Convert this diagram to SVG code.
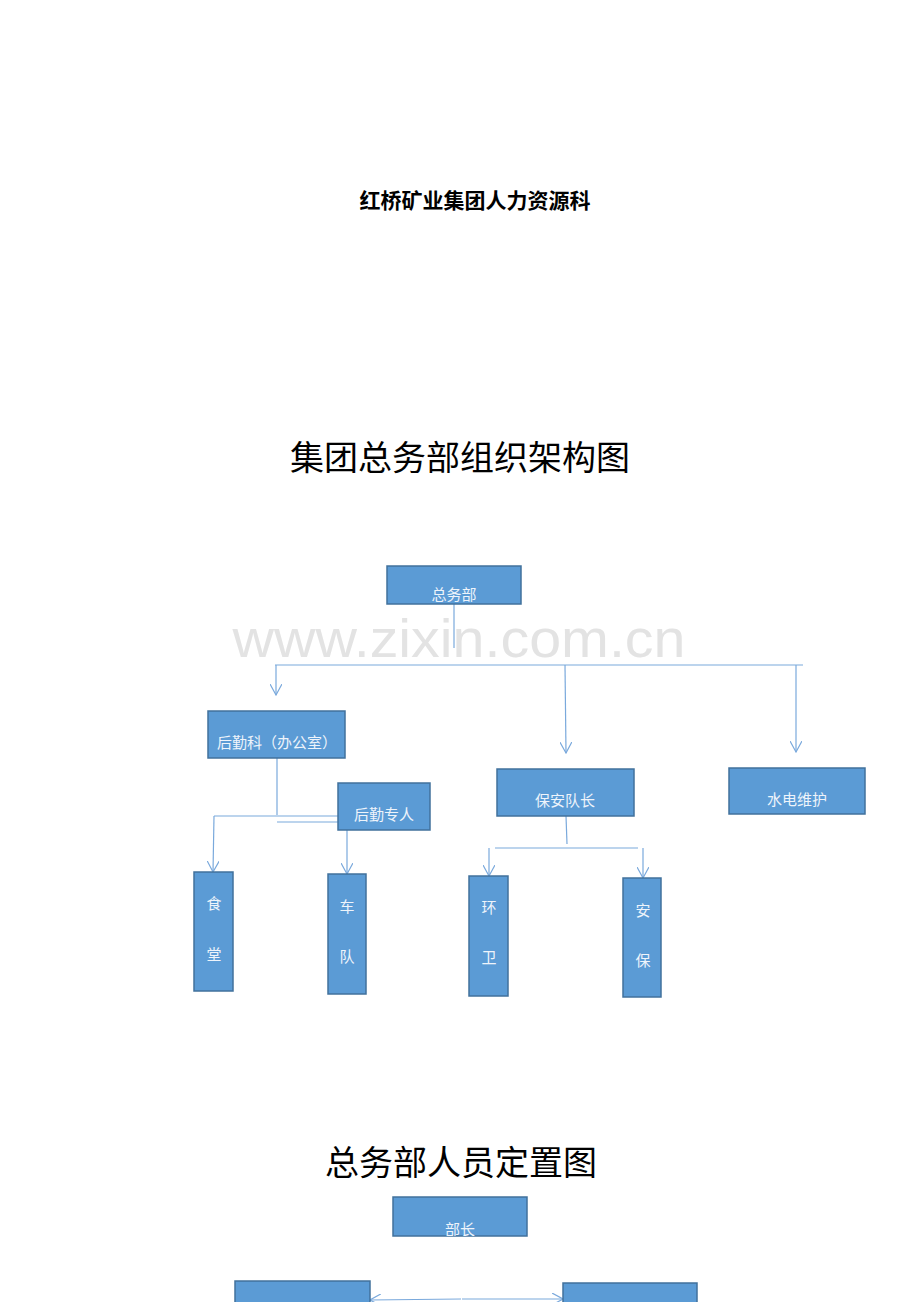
<svg xmlns="http://www.w3.org/2000/svg" width="920" height="1302" viewBox="0 0 920 1302">
<style>
.box{fill:#5b9bd5;stroke:#41719c;stroke-width:1.5}
.lbl{font-family:"Noto Sans CJK SC","Noto Sans",sans-serif;font-size:15px;fill:#eef4fb;text-anchor:middle}
.ln{stroke:#7aa9dc;stroke-width:1.2;fill:none}
.arr{stroke:#7aa9dc;stroke-width:1.2;fill:none;marker-end:url(#ah)}
.t{font-family:"Noto Sans CJK SC",sans-serif;fill:#000;text-anchor:middle}
</style>
<defs>
<marker id="ah" viewBox="0 0 12 12" refX="11" refY="6" markerWidth="12" markerHeight="12" markerUnits="userSpaceOnUse" orient="auto">
<path d="M0,0 L11,6 L0,12" fill="none" stroke="#7aa9dc" stroke-width="1.2"/>
</marker>
<clipPath id="c1"><rect x="387" y="566" width="134" height="38"/></clipPath>
<clipPath id="c2"><rect x="393" y="1197" width="134" height="39"/></clipPath>
</defs>
<rect width="920" height="1302" fill="#fff"/>
<text class="t" x="475" y="208" font-size="21" font-weight="700">红桥矿业集团人力资源科</text>
<text class="t" x="460" y="470" font-size="34">集团总务部组织架构图</text>
<text class="t" x="461" y="1175" font-size="34">总务部人员定置图</text>
<text x="459" y="657" font-family="Liberation Sans,Arial,sans-serif" font-size="54" fill="#e3e3e3" text-anchor="middle" textLength="453" lengthAdjust="spacingAndGlyphs">www.zixin.com.cn</text>
<g id="connectors">
<line class="ln" x1="454" y1="604" x2="454" y2="648"/>
<line class="ln" x1="275" y1="665" x2="803" y2="665"/>
<line class="arr" x1="276" y1="665" x2="276" y2="695"/>
<line class="arr" x1="565" y1="665" x2="566" y2="753"/>
<line class="arr" x1="796" y1="665" x2="796" y2="752"/>
<line class="ln" x1="277" y1="758" x2="277" y2="815"/>
<line class="ln" x1="338" y1="816" x2="214" y2="816"/>
<line class="arr" x1="214" y1="816" x2="213" y2="872"/>
<line class="ln" x1="277" y1="822" x2="338" y2="822"/>
<line class="arr" x1="347" y1="830" x2="347" y2="874"/>
<line class="ln" x1="566" y1="816" x2="567" y2="844"/>
<line class="ln" x1="495" y1="848" x2="638" y2="848"/>
<line class="arr" x1="489" y1="848" x2="489" y2="876"/>
<line class="arr" x1="643" y1="848" x2="643" y2="878"/>
<line class="arr" x1="461" y1="1299" x2="370" y2="1300"/>
<line class="arr" x1="462" y1="1299" x2="563" y2="1299"/>
</g>
<g id="n-zongwubu">
<rect class="box" x="387" y="566" width="134" height="38"/>
<text class="lbl" x="454" y="600" clip-path="url(#c1)">总务部</text>
</g>
<g id="n-houqinke">
<rect class="box" x="208" y="711" width="137" height="47"/>
<text class="lbl" x="277" y="748">后勤科（办公室）</text>
</g>
<g id="n-houqinzhuanren">
<rect class="box" x="338" y="783" width="92" height="47"/>
<text class="lbl" x="384" y="820">后勤专人</text>
</g>
<g id="n-baoan">
<rect class="box" x="497" y="769" width="137" height="47"/>
<text class="lbl" x="565" y="806">保安队长</text>
</g>
<g id="n-shuidian">
<rect class="box" x="729" y="768" width="136" height="46"/>
<text class="lbl" x="797" y="805">水电维护</text>
</g>
<g id="n-shitang">
<rect class="box" x="194" y="872" width="39" height="119"/>
<text class="lbl" x="214" y="909">食</text>
<text class="lbl" x="214" y="960">堂</text>
</g>
<g id="n-chedui">
<rect class="box" x="328" y="874" width="38" height="120"/>
<text class="lbl" x="347" y="912">车</text>
<text class="lbl" x="347" y="962">队</text>
</g>
<g id="n-huanwei">
<rect class="box" x="469" y="876" width="39" height="120"/>
<text class="lbl" x="489" y="913">环</text>
<text class="lbl" x="489" y="963">卫</text>
</g>
<g id="n-anbao">
<rect class="box" x="623" y="878" width="38" height="119"/>
<text class="lbl" x="643" y="916">安</text>
<text class="lbl" x="643" y="966">保</text>
</g>
<g id="n-buzhang">
<rect class="box" x="393" y="1197" width="134" height="39"/>
<text class="lbl" x="460" y="1235" clip-path="url(#c2)">部长</text>
</g>
<g id="n-left">
<rect class="box" x="235" y="1281" width="135" height="30"/>
</g>
<g id="n-right">
<rect class="box" x="563" y="1283" width="134" height="30"/>
</g>
</svg>
